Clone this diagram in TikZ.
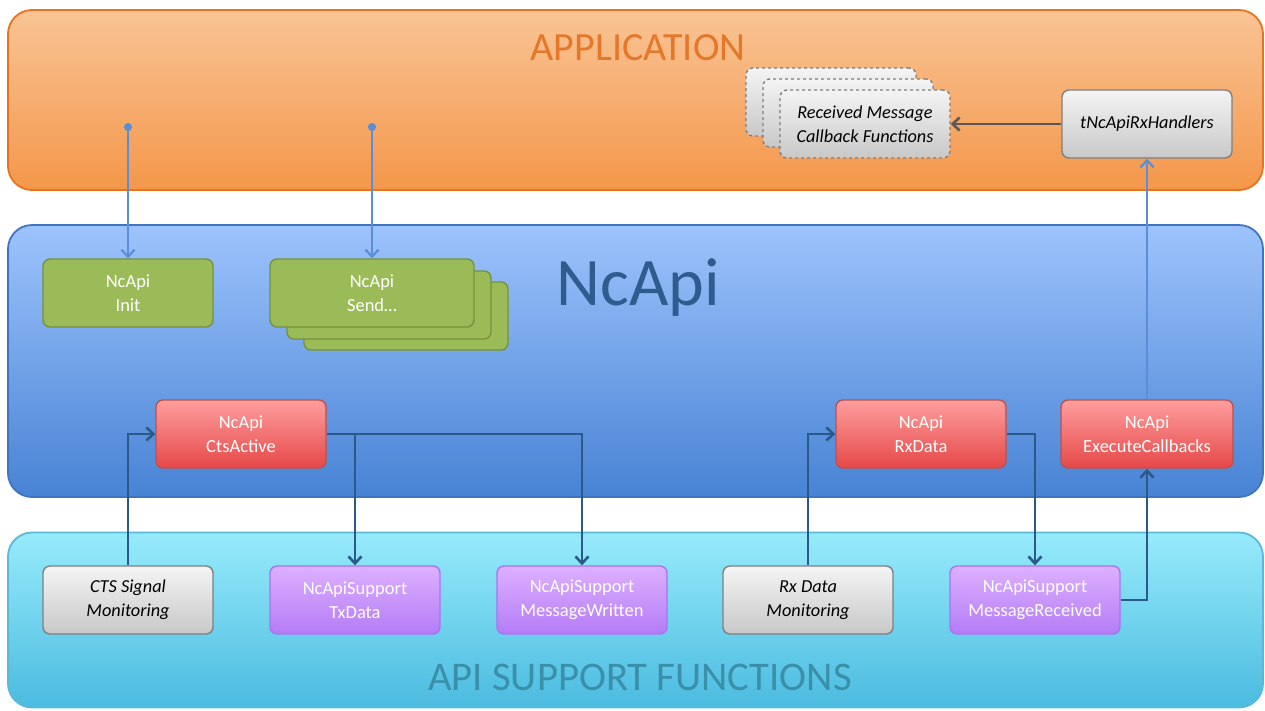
\documentclass[tikz,border=0pt]{standalone}
\usepackage{fontspec}
\setmainfont{Carlito}
\usetikzlibrary{arrows.meta,positioning}

\definecolor{appTop}{HTML}{F9C495}
\definecolor{appBot}{HTML}{F4974A}
\definecolor{appLine}{HTML}{E8731E}
\definecolor{appText}{HTML}{E5772A}
\definecolor{apiTop}{HTML}{9DC3FC}
\definecolor{apiBot}{HTML}{4883D4}
\definecolor{apiLine}{HTML}{3F74C0}
\definecolor{apiText}{HTML}{2E5C8F}
\definecolor{supTop}{HTML}{97EBFB}
\definecolor{supBot}{HTML}{4BBBE0}
\definecolor{supLine}{HTML}{5AB9D8}
\definecolor{supText}{HTML}{3A8FA9}
\definecolor{grnFill}{HTML}{9BBB59}
\definecolor{grnLine}{HTML}{76923C}
\definecolor{redTop}{HTML}{FF9E9E}
\definecolor{redBot}{HTML}{E64848}
\definecolor{redLine}{HTML}{C0504D}
\definecolor{purTop}{HTML}{DDB0FF}
\definecolor{purBot}{HTML}{B47CF6}
\definecolor{purLine}{HTML}{A874EE}
\definecolor{gryTop}{HTML}{F4F4F4}
\definecolor{gryBot}{HTML}{C8C8C8}
\definecolor{gryLine}{HTML}{7F7F7F}
\definecolor{flowLight}{HTML}{5B8ED6}
\definecolor{flowDark}{HTML}{2B5A8A}
\definecolor{flowGray}{HTML}{595959}

\tikzset{
  layer/.style={rounded corners=24pt, line width=1.8pt, minimum width=1255pt, inner sep=0pt},
  fnbox/.style={rounded corners=7pt, line width=1.4pt, minimum width=170pt, minimum height=68pt,
    inner sep=0pt, align=center, font=\fontsize{18.5}{24}\selectfont},
  greenbox/.style={fnbox, fill=grnFill, draw=grnLine, text=white},
  redbox/.style={fnbox, top color=redTop, bottom color=redBot, draw=redLine, text=white},
  purplebox/.style={fnbox, top color=purTop, bottom color=purBot, draw=purLine, text=white},
  graybox/.style={fnbox, top color=gryTop, bottom color=gryBot, draw=gryLine, text=black, font=\fontsize{18.3}{24}\selectfont\itshape},
  lightflow/.style={draw=flowLight, line width=2.2pt, -{Straight Barb[length=7pt,width=13pt]}},
  darkflow/.style={draw=flowDark, line width=2.6pt, -{Straight Barb[length=7pt,width=13pt]}},
  grayflow/.style={draw=flowGray, line width=2.6pt, -{Straight Barb[length=7pt,width=13pt]}}
}

\begin{document}
\begin{tikzpicture}[x=1pt,y=-1pt]
  \useasboundingbox (0,0) rectangle (1265,710);

  \node[layer, minimum height=180pt, top color=appTop, bottom color=appBot, draw=appLine] (app) at (635.5,100) {};
  \node[layer, minimum height=272pt, top color=apiTop, bottom color=apiBot, draw=apiLine] (ncapi) at (635.5,361) {};
  \node[layer, minimum height=175pt, top color=supTop, bottom color=supBot, draw=supLine] (support) at (635.5,620) {};

  \node[text=appText, font=\fontsize{40}{44}\selectfont] (apptitle) at (638,48) {APPLICATION};
  \node[text=apiText, font=\fontsize{68}{72}\selectfont] (apititle) at (638,288) {NcApi};
  \node[text=supText, font=\fontsize{40.7}{44}\selectfont] (suptitle) at (640,677) {API SUPPORT FUNCTIONS};

  \node[greenbox] (init) at (128,293) {NcApi\\Init};
  \node[greenbox, minimum width=204pt] (send3) at (406,316) {};
  \node[greenbox, minimum width=204pt] (send2) at (389,305) {};
  \node[greenbox, minimum width=204pt] (send) at (372,293) {NcApi\\Send\dots};

  \node[graybox, dashed] (recv3) at (831,102) {};
  \node[graybox, dashed] (recv2) at (848,113) {};
  \node[graybox, dashed] (recv) at (865,124) {Received Message\\Callback Functions};
  \node[graybox] (handlers) at (1147,124) {tNcApiRxHandlers};

  \node[redbox] (ctsactive) at (241,434) {NcApi\\CtsActive};
  \node[redbox] (rxdata) at (921,434) {NcApi\\RxData};
  \node[redbox, minimum width=172pt] (execcb) at (1147,434) {NcApi\\ExecuteCallbacks};

  \node[graybox] (ctsmon) at (128,600) {CTS Signal\\Monitoring};
  \node[purplebox] (txdata) at (355,600) {NcApiSupport\\TxData};
  \node[purplebox] (msgwritten) at (582,600) {NcApiSupport\\MessageWritten};
  \node[graybox] (rxmon) at (808,600) {Rx Data\\Monitoring};
  \node[purplebox] (msgreceived) at (1035,600) {NcApiSupport\\MessageReceived};

  \coordinate (initsrc) at (128,123);
  \coordinate (sendsrc) at (372,123);
  \draw[lightflow, {Circle[length=8pt]}-{Straight Barb[length=7pt,width=13pt]}] (initsrc) -- (init.north);
  \draw[lightflow, {Circle[length=8pt]}-{Straight Barb[length=7pt,width=13pt]}] (sendsrc) -- (send.north);
  \draw[lightflow] (execcb.north) -- (handlers.south);
  \draw[grayflow] (handlers.west) -- (recv.east);

  \draw[darkflow] (ctsmon.north) |- (ctsactive.west);
  \draw[darkflow] (ctsactive.east) -| (msgwritten.north);
  \draw[darkflow] (ctsactive.east -| txdata.north) -- (txdata.north);
  \draw[darkflow] (rxmon.north) |- (rxdata.west);
  \draw[darkflow] (rxdata.east) -| (msgreceived.north);
  \draw[darkflow] (msgreceived.east) -| (execcb.south);
\end{tikzpicture}
\end{document}
